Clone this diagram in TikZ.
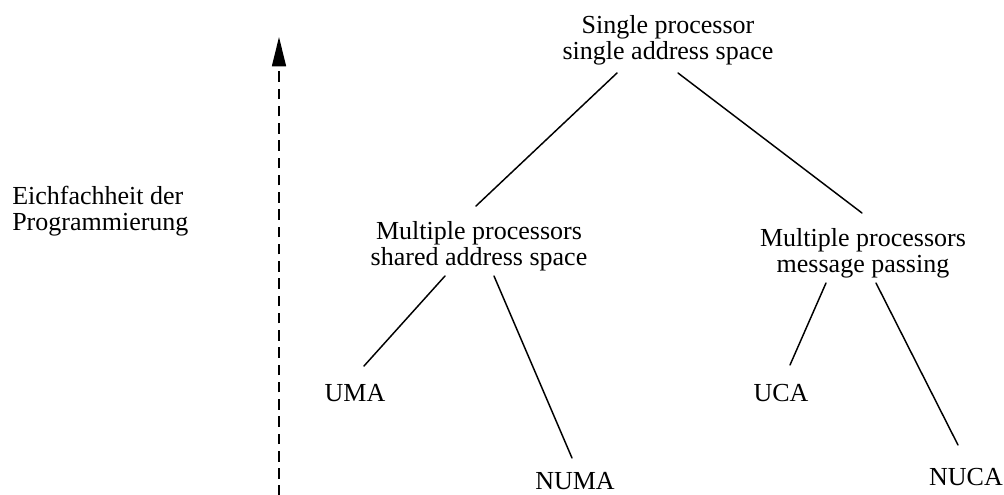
\documentclass[tikz,border=0pt]{standalone}
\usepackage{fontspec}
\setmainfont{Liberation Serif}
\usetikzlibrary{arrows.meta}
\newcommand\twolines[3]{\begin{tabular}[t]{@{}#1@{}}#2\\#3\end{tabular}}
\begin{document}
\begin{tikzpicture}[x=0.75pt,y=-0.75pt,
  lbl/.style={inner sep=0pt,anchor=base,font=\fontsize{19.5}{19.5}\selectfont},
  edge/.style={line width=1.1pt,line cap=round},
  axis/.style={line width=1.1pt,dash pattern=on 7.9pt off 5.04pt,
    -{Triangle[length=22pt,width=10.5pt]}}]
\useasboundingbox (0,0) rectangle (1004,494);
% axis arrow
\coordinate (abot) at (279,496);
\coordinate (atip) at (279,37);
\draw[axis] (abot) -- (atip);
% labels
\node[lbl,anchor=base west] (ease) at (12,204) {\twolines{l}{Eichfachheit der}{Programmierung}};
\node[lbl] (top) at (668,33) {\twolines{c}{Single processor}{single address space}};
\node[lbl] (ml) at (479,239) {\twolines{c}{Multiple processors}{shared address space}};
\node[lbl] (mr) at (863,246) {\twolines{c}{Multiple processors}{message passing}};
\node[lbl] (uma) at (355,401) {UMA};
\node[lbl] (numa) at (575,489) {NUMA};
\node[lbl] (uca) at (781,401) {UCA};
\node[lbl] (nuca) at (966,485) {NUCA};
% connectors
\draw[edge] ([shift={(-51,40)}]top.base) -- ([shift={(-3,-33)}]ml.base);
\draw[edge] ([shift={(10,40)}]top.base) -- ([shift={(-1,-33)}]mr.base);
\draw[edge] ([shift={(-34,37)}]ml.base) -- ([shift={(9,-35)}]uma.base);
\draw[edge] ([shift={(15,37)}]ml.base) -- ([shift={(-3,-31)}]numa.base);
\draw[edge] ([shift={(-37,37)}]mr.base) -- ([shift={(9,-36)}]uca.base);
\draw[edge] ([shift={(13,37)}]mr.base) -- ([shift={(-8,-40)}]nuca.base);
\end{tikzpicture}
\end{document}
